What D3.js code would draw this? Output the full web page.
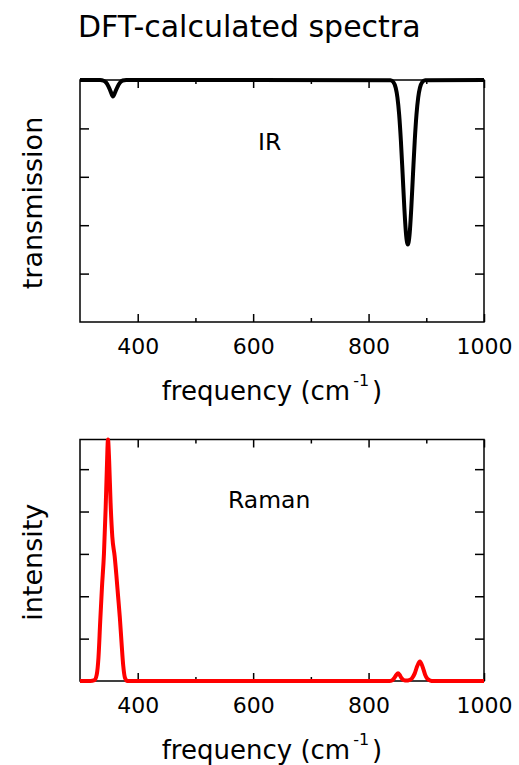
<!DOCTYPE html>
<html>
<head>
<meta charset="utf-8">
<script src="https://cdn.jsdelivr.net/npm/d3@7"></script>
<style>
  body { margin: 0; background: #fff; }
  svg { display: block; font-family: "DejaVu Sans", Verdana, sans-serif; }
</style>
</head>
<body>
<div id="chart-container"></div>
<script>
// chart data
const chartTitle = "DFT-calculated spectra";
const xLabel = "frequency (cm";
const xLabelSup = "-1";
const irLabel = "IR";
const ramanLabel = "Raman";
const irYLabel = "transmission";
const ramanYLabel = "intensity";

// x axis
const xDomain = [300, 1000];
const xMajorTicks = [400, 600, 800, 1000];
const xMinorTicks = [500, 700, 900];

// IR spectrum (transmission, 1 = no absorption)
const irFreq = [300, 335, 341, 345, 349, 353, 357, 361, 365, 369, 374, 380,
  838, 843, 847, 850, 853, 856, 859, 862, 865, 868, 871, 874, 877, 880, 883, 886, 889, 893, 898, 1000];
const irTrans = [1.0, 1.0, 0.997, 0.99, 0.975, 0.953, 0.932, 0.95, 0.972, 0.988, 0.998, 1.0,
  0.999, 0.991, 0.968, 0.928, 0.857, 0.749, 0.612, 0.47, 0.36, 0.32, 0.36, 0.47, 0.612, 0.749, 0.857, 0.928, 0.968, 0.991, 0.999, 1.0];
const irYDomain = [0, 1];
const irYTicks = [0.2, 0.4, 0.6, 0.8];

// Raman spectrum (intensity)
const ramanFreq = [300, 318, 325, 329, 332, 335, 338, 341.5, 344.5, 346.5, 348.5, 350.5, 353, 356, 360, 363, 366, 369, 372, 375, 378, 382,
  836, 841, 845, 848, 851, 854, 857, 861, 866, 870, 875, 880, 884, 889, 894, 898, 902, 907, 912, 1000];
const ramanInt = [0, 0, 0.02, 0.15, 0.55, 1.4, 2.2, 3.0, 4.1, 5.0, 5.7, 5.2, 4.2, 3.4, 2.95, 2.5, 2.0, 1.5, 0.9, 0.35, 0.07, 0,
  0, 0.02, 0.08, 0.14, 0.18, 0.14, 0.07, 0.02, 0.01, 0.02, 0.06, 0.18, 0.34, 0.46, 0.32, 0.15, 0.05, 0.01, 0, 0];
const ramanYDomain = [0, 5.7];
const ramanYTicks = [1, 2, 3, 4, 5];

// layout
const svgWidth = 519, svgHeight = 765;
const plotLeft = 80, plotRight = 484;

const svg = d3.select("#chart-container")
  .append("svg")
  .attr("width", svgWidth)
  .attr("height", svgHeight);

// title
svg.append("text")
  .attr("x", 78)
  .attr("y", 37)
  .style("font-size", "30px")
  .text(chartTitle);

const x = d3.scaleLinear().domain(xDomain).range([plotLeft, plotRight]);

// draws one framed panel with inward ticks on all four sides
function drawPanel(opts) {
  const y = d3.scaleLinear().domain(opts.yDomain).range([opts.bottom, opts.top]);
  const g = svg.append("g");

  // x ticks, bottom (labelled) and top (mirrored)
  g.append("g")
    .attr("transform", `translate(0,${opts.bottom})`)
    .call(d3.axisBottom(x).tickValues(xMajorTicks).tickSize(-8).tickPadding(16).tickFormat(d3.format("d")));
  g.append("g")
    .attr("transform", `translate(0,${opts.bottom})`)
    .call(d3.axisBottom(x).tickValues(xMinorTicks).tickSize(-4).tickFormat(""));
  g.append("g")
    .attr("transform", `translate(0,${opts.top})`)
    .call(d3.axisTop(x).tickValues(xMajorTicks).tickSize(-8).tickFormat(""));
  g.append("g")
    .attr("transform", `translate(0,${opts.top})`)
    .call(d3.axisTop(x).tickValues(xMinorTicks).tickSize(-4).tickFormat(""));

  // y ticks, left and right, no labels
  g.append("g")
    .attr("transform", `translate(${plotLeft},0)`)
    .call(d3.axisLeft(y).tickValues(opts.yTicks).tickSize(-9).tickFormat(""));
  g.append("g")
    .attr("transform", `translate(${plotRight},0)`)
    .call(d3.axisRight(y).tickValues(opts.yTicks).tickSize(-9).tickFormat(""));

  g.selectAll(".domain").remove();
  g.selectAll(".tick line").attr("stroke", "#000").attr("stroke-width", 1.5);
  g.selectAll(".tick text")
    .attr("fill", "#000")
    .style("font-size", "22px")
    .style("font-family", "DejaVu Sans, Verdana, sans-serif");

  // frame
  g.append("rect")
    .attr("x", plotLeft)
    .attr("y", opts.top)
    .attr("width", plotRight - plotLeft)
    .attr("height", opts.bottom - opts.top)
    .attr("fill", "none")
    .attr("stroke", "#000")
    .attr("stroke-width", 1.5);

  // spectrum line
  const points = opts.freq.map((f, i) => [f, opts.vals[i]]);
  const line = d3.line()
    .x(d => x(d[0]))
    .y(d => y(d[1]))
    .curve(d3.curveMonotoneX);
  g.append("path")
    .datum(points)
    .attr("d", line)
    .attr("fill", "none")
    .attr("stroke", opts.color)
    .attr("stroke-width", 4)
    .attr("stroke-linejoin", "round");

  // panel label inside the plot
  g.append("text")
    .attr("x", opts.labelX)
    .attr("y", opts.labelY)
    .style("font-size", "23.5px")
    .text(opts.label);

  // y axis label
  g.append("text")
    .attr("transform", `translate(42,${(opts.top + opts.bottom) / 2 + 2}) rotate(-90)`)
    .style("text-anchor", "middle")
    .style("font-size", "27px")
    .text(opts.yLabel);

  // x axis label with superscript
  const xl = g.append("text")
    .attr("x", 272)
    .attr("y", opts.bottom + 78)
    .style("text-anchor", "middle")
    .style("font-size", "26px");
  xl.append("tspan").text(xLabel);
  xl.append("tspan").attr("dx", 3).attr("dy", -14).style("font-size", "16px").text(xLabelSup);
  xl.append("tspan").attr("dx", 3).attr("dy", 14).text(")");
}

drawPanel({
  top: 80, bottom: 322,
  yDomain: irYDomain, yTicks: irYTicks,
  freq: irFreq, vals: irTrans, color: "#000",
  label: irLabel, labelX: 258, labelY: 150,
  yLabel: irYLabel
});

drawPanel({
  top: 439.5, bottom: 681,
  yDomain: ramanYDomain, yTicks: ramanYTicks,
  freq: ramanFreq, vals: ramanInt, color: "#ff0000",
  label: ramanLabel, labelX: 228, labelY: 508,
  yLabel: ramanYLabel
});
</script>
</body>
</html>
